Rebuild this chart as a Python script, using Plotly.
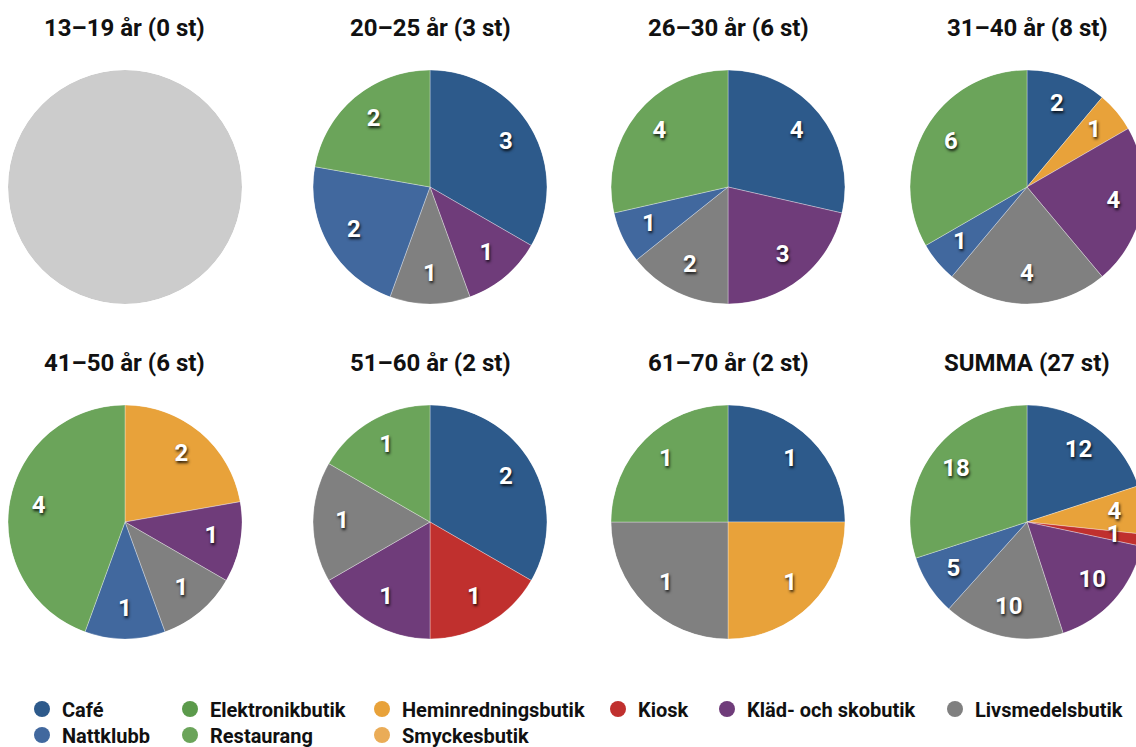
import numpy as np
import plotly.graph_objects as go

# Store categories (clockwise slice order) and their colours
categories = ["Café", "Elektronikbutik", "Heminredningsbutik", "Kiosk",
              "Kläd- och skobutik", "Livsmedelsbutik", "Nattklubb",
              "Restaurang", "Smyckesbutik"]
colors = ["#2D5A8B", "#5B9A4B", "#E8A23A", "#C0302E", "#6F3C7A",
          "#808080", "#41689E", "#6BA45A", "#EAAC57"]

group_titles = ["13–19 år (0 st)", "20–25 år (3 st)", "26–30 år (6 st)",
                "31–40 år (8 st)", "41–50 år (6 st)", "51–60 år (2 st)",
                "61–70 år (2 st)", "SUMMA (27 st)"]

# Counts per category, in the order of `categories`
age_13_19 = [0, 0, 0, 0, 0, 0, 0, 0, 0]
age_20_25 = [3, 0, 0, 0, 1, 1, 2, 2, 0]
age_26_30 = [4, 0, 0, 0, 3, 2, 1, 4, 0]
age_31_40 = [2, 0, 1, 0, 4, 4, 1, 6, 0]
age_41_50 = [0, 0, 2, 0, 1, 1, 1, 4, 0]
age_51_60 = [2, 0, 0, 1, 1, 1, 0, 1, 0]
age_61_70 = [1, 0, 1, 0, 0, 1, 0, 1, 0]
summa = [12, 0, 4, 1, 10, 10, 5, 18, 0]

groups = [age_13_19, age_20_25, age_26_30, age_31_40,
          age_41_50, age_51_60, age_61_70, summa]

# Page geometry (pixels)
W, H = 1160, 747
R = 117
col_x = [125, 430, 728, 1027]
row_y = [187, 522]
title_y = [28, 363]
FONT = "Roboto, Liberation Sans Narrow, DejaVu Sans Condensed, sans-serif"

fig = go.Figure()
layout_polars = {}
annotations = []

for i, (title, vals) in enumerate(zip(group_titles, groups)):
    row, col = divmod(i, 4)
    cx, cy = col_x[col], row_y[row]
    pid = "polar" if i == 0 else f"polar{i + 1}"
    layout_polars[pid] = dict(
        domain=dict(x=[(cx - R) / W, (cx + R) / W],
                    y=[1 - (cy + R) / H, 1 - (cy - R) / H]),
        bgcolor="rgba(0,0,0,0)",
        bargap=0,
        hole=0,
        radialaxis=dict(range=[0, 1], visible=False),
        angularaxis=dict(rotation=90, direction="clockwise", visible=False),
    )
    annotations.append(dict(
        x=cx / W, y=1 - title_y[row] / H, xref="paper", yref="paper",
        text=title, showarrow=False, xanchor="center", yanchor="middle",
        font=dict(family=FONT, size=24, color="#111111", weight="bold"),
    ))

    v = np.array(vals, dtype=float)
    total = v.sum()
    if total == 0:
        # empty group: plain grey disc
        fig.add_trace(go.Barpolar(
            r=[1], theta=[0], width=[360], subplot=pid,
            marker=dict(color="#CCCCCC", line=dict(width=0)),
            showlegend=False, hoverinfo="skip"))
        continue

    span = v / total * 360.0
    start = np.cumsum(span) - span
    mid = start + span / 2
    keep = v > 0
    fig.add_trace(go.Barpolar(
        r=np.ones(keep.sum()), theta=mid[keep], width=span[keep], subplot=pid,
        marker=dict(color=[c for c, k in zip(colors, keep) if k],
                    line=dict(width=0.6, color="rgba(255,255,255,0.55)")),
        customdata=[c for c, k in zip(categories, keep) if k],
        hovertemplate="%{customdata}: %{text}<extra></extra>",
        text=[str(int(x)) for x in v[keep]],
        showlegend=False))
    fig.add_trace(go.Scatterpolar(
        r=np.full(keep.sum(), 0.75), theta=mid[keep], subplot=pid,
        mode="text", text=[str(int(x)) for x in v[keep]],
        textfont=dict(family=FONT, size=24, color="white", weight="bold",
                      shadow="1px 2px 3px rgba(0,0,0,0.85)"),
        showlegend=False, hoverinfo="skip"))

# Legend: one entry per category, laid out on a two-row grid
legend_marker_x = [42, 190, 382, 618, 727, 955, 42, 190, 382]
legend_row = [0, 0, 0, 0, 0, 0, 1, 1, 1]
legend_row_y = [709, 735]
legends = {}
for k, (name, color) in enumerate(zip(categories, colors)):
    lid = "legend" if k == 0 else f"legend{k + 1}"
    fig.add_trace(go.Scatterpolar(
        r=[None], theta=[None], subplot="polar", mode="markers", name=name,
        marker=dict(color=color, size=16, symbol="circle"),
        legend=lid, showlegend=True, hoverinfo="skip"))
    legends[lid] = dict(
        x=(legend_marker_x[k] - 20) / W, xanchor="left",
        y=1 - legend_row_y[legend_row[k]] / H, yanchor="middle",
        bgcolor="rgba(0,0,0,0)", borderwidth=0,
        font=dict(family=FONT, size=20, color="#111111", weight="bold"),
        itemclick=False, itemdoubleclick=False,
    )

fig.update_layout(
    width=W, height=H,
    margin=dict(l=0, r=0, t=0, b=0, autoexpand=False),
    paper_bgcolor="white",
    plot_bgcolor="white",
    showlegend=True,
    annotations=annotations,
    **layout_polars,
    **legends,
)

fig.write_html("out.html")
